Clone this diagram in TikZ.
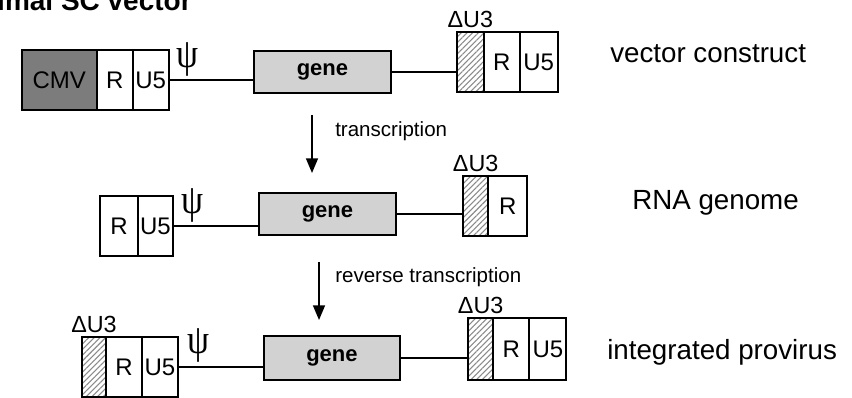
\documentclass[tikz,border=0pt]{standalone}
\usepackage{fontspec}
\setmainfont{Liberation Sans}
\newfontfamily\greekfont{Liberation Serif}
\usetikzlibrary{positioning,arrows.meta,patterns.meta}
\definecolor{cmvgray}{HTML}{7C7C7C}
\definecolor{genegray}{HTML}{D2D2D2}
\definecolor{hatchgray}{HTML}{8A8A8A}
\begin{document}
\begin{tikzpicture}[x=0.75pt, y=-0.75pt,
        seg/.style={draw, line width=1.4pt, inner sep=0pt, outer sep=0pt,
            minimum height=44.5pt, font=\fontsize{18}{21}\selectfont},
        rbox/.style={seg, minimum width=27pt},
        cmvbox/.style={seg, fill=cmvgray, minimum width=56pt},
        hatchbox/.style={seg, minimum width=19pt,
            pattern={Lines[angle=45,distance=3pt,line width=0.8pt]},
            pattern color=hatchgray},
        genebox/.style={draw, line width=1.4pt, fill=genegray, inner sep=0pt,
            minimum width=102.75pt, minimum height=31.5pt,
            font=\bfseries\fontsize{16.5}{19}\selectfont},
        wire/.style={line width=1.1pt},
        flow/.style={line width=1.1pt, -{Triangle[width=9pt,length=11pt]}},
        tag/.style={inner sep=0pt, font=\fontsize{17.5}{20}\selectfont},
        psi/.style={inner sep=0pt, xscale=0.85,
            font=\greekfont\fontsize{31}{34}\selectfont},
        caption/.style={inner sep=0pt, anchor=base west,
            font=\fontsize{20.8}{24}\selectfont},
        steplabel/.style={inner sep=0pt, anchor=base west,
            font=\fontsize{15.4}{18}\selectfont}]
    \fill[white] (0,0) rectangle (852,398);
    \useasboundingbox (0,0) rectangle (852,398);
    \begin{scope}
        \clip (0,0) rectangle (852,398);
        \node[anchor=base east, inner sep=0pt,
            font=\bfseries\fontsize{21}{25}\selectfont] (title) at (192,11)
            {Minimal SC vector};
    \end{scope}

    % vector construct
    \node[cmvbox, anchor=west] (cmvA) at (22,80) {CMV};
    \node[rbox, right=0pt of cmvA] (rLA) {R};
    \node[rbox, right=0pt of rLA] (uLA) {U5};
    \node[psi] (psiA) at ([shift={(19,-21)}]uLA.east) {ψ};
    \node[genebox, anchor=west] (geneA) at (253,72) {gene};
    \node[hatchbox, anchor=west, minimum width=20pt] (dRA) at (457,62) {};
    \node[rbox, right=0pt of dRA] (rRA) {R};
    \node[rbox, right=0pt of rRA, minimum width=28.5pt] (uRA) {U5};
    \node[tag, above=3pt of dRA] (duRA) {ΔU3};
    \draw[wire] (uLA.east) -- (uLA.east -| geneA.west);
    \draw[wire] (geneA.east) -- (geneA.east -| dRA.west);
    \node[caption] (capA) at (610,63) {vector construct};

    \coordinate (txTop) at (312,115);
    \coordinate (txEnd) at (312,173);
    \draw[flow] (txTop) -- (txEnd);
    \node[steplabel] (txLab) at (335,137) {transcription};

    % RNA genome
    \node[rbox, anchor=west, minimum width=28.5pt] (rLB) at (100,226) {R};
    \node[rbox, right=0pt of rLB, minimum width=26.25pt] (uLB) {U5};
    \node[psi] (psiB) at ([shift={(19,-21)}]uLB.east) {ψ};
    \node[genebox, anchor=west] (geneB) at (258,214) {gene};
    \node[hatchbox, anchor=west] (dRB) at (463,206) {};
    \node[rbox, right=0pt of dRB, minimum width=29.25pt] (rRB) {R};
    \node[tag, above=3pt of dRB] (duRB) {ΔU3};
    \draw[wire] (uLB.east) -- (uLB.east -| geneB.west);
    \draw[wire] (geneB.east) -- (geneB.east -| dRB.west);
    \node[caption] (capB) at (632,210) {RNA genome};

    \coordinate (rtTop) at (319,262);
    \coordinate (rtEnd) at (319,320);
    \draw[flow] (rtTop) -- (rtEnd);
    \node[steplabel] (rtLab) at (335,283) {reverse transcription};

    % integrated provirus
    \node[hatchbox, anchor=west, minimum width=18pt] (dLC) at (82,367) {};
    \node[rbox, right=0pt of dLC] (rLC) {R};
    \node[rbox, right=0pt of rLC] (uLC) {U5};
    \node[tag, above=3pt of dLC] (duLC) {ΔU3};
    \node[psi] (psiC) at ([shift={(20,-22)}]uLC.east) {ψ};
    \node[genebox, anchor=west, minimum width=102pt, minimum height=33pt]
        (geneC) at (263,358) {gene};
    \node[hatchbox, anchor=west, minimum height=46.5pt] (dRC) at (468,349) {};
    \node[rbox, right=0pt of dRC, minimum height=46.5pt] (rRC) {R};
    \node[rbox, right=0pt of rRC, minimum width=27.75pt, minimum height=46.5pt]
        (uRC) {U5};
    \node[tag, above=3pt of dRC] (duRC) {ΔU3};
    \draw[wire] (uLC.east) -- (uLC.east -| geneC.west);
    \draw[wire] (geneC.east) -- (geneC.east -| dRC.west);
    \node[caption] (capC) at (607,359) {integrated provirus};
\end{tikzpicture}
\end{document}
